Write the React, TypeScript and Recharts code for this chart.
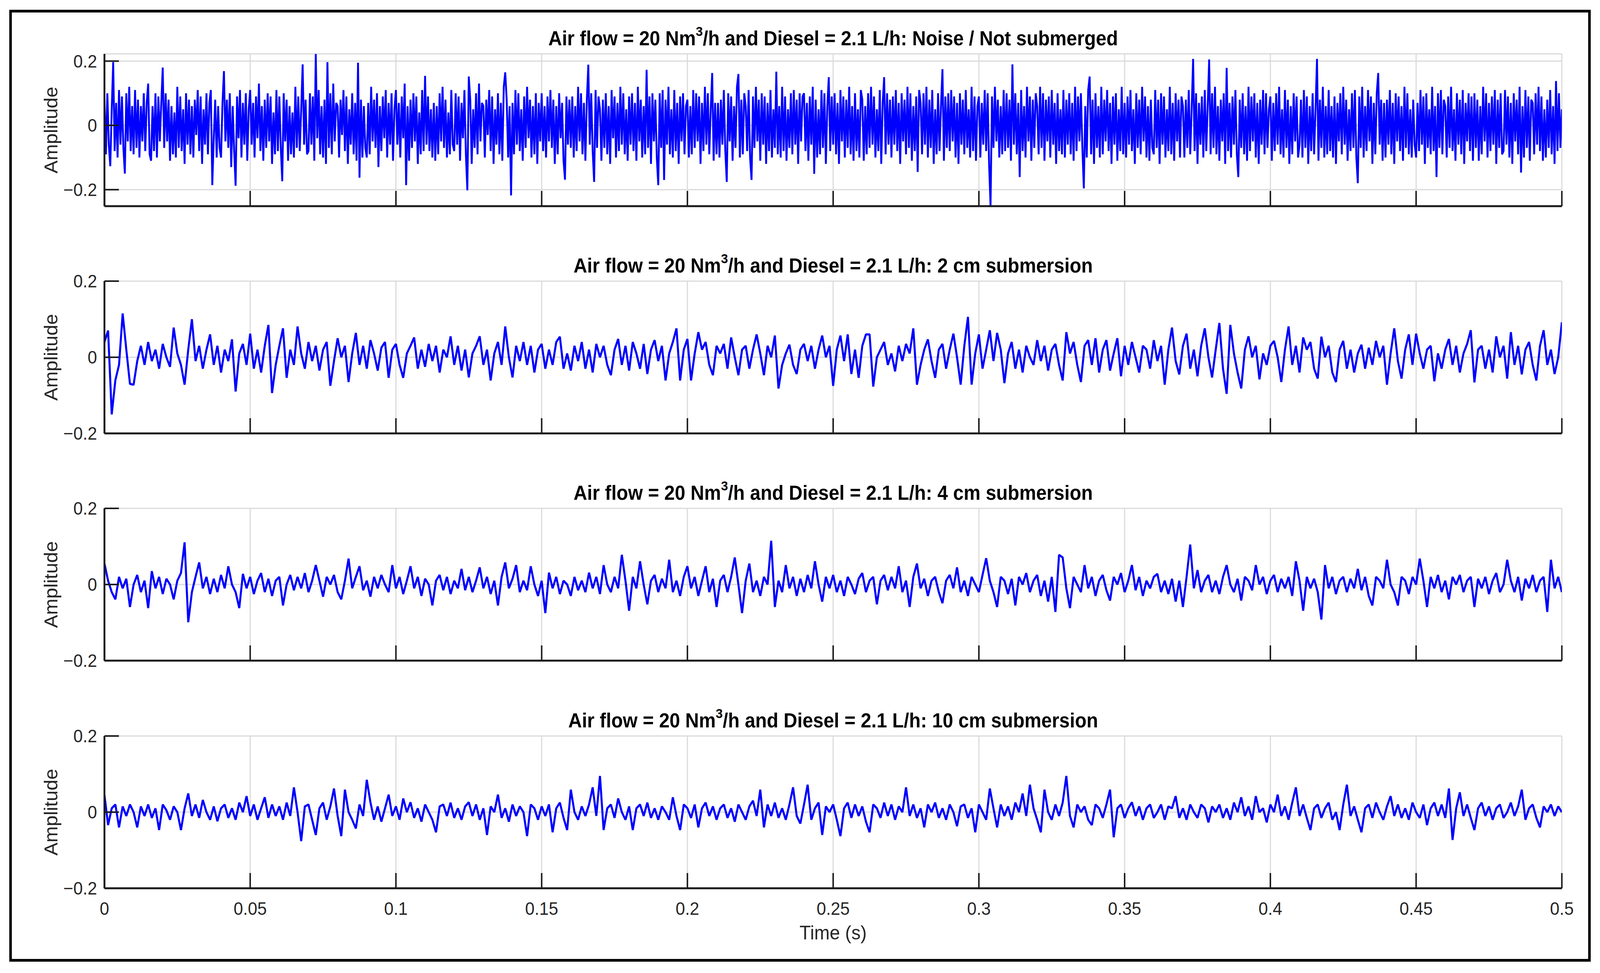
import { CartesianGrid, Line, LineChart, XAxis, YAxis } from "recharts";

// Four vibration traces (amplitude vs time, 0 – 0.5 s).
const TIME_TICKS = [0, 0.05, 0.1, 0.15, 0.2, 0.25, 0.3, 0.35, 0.4, 0.45, 0.5];
const AMPLITUDE_TICKS = [-0.2, 0, 0.2];
const TITLE_PREFIX = "Air flow = 20 Nm";
const TITLE_MIDDLE = "/h and Diesel = 2.1 L/h: ";
const TITLE_SUFFIXES = ["Noise / Not submerged", "2 cm submersion", "4 cm submersion", "10 cm submersion"];

// Noise / not submerged (one sample every 0.5 ms)
const noiseNotSubmerged = [
  .08, -.09, .1, -.06, -.127, .05, .197, -.08, .07, -.1, .11, -.06, .09, -.07, -.15, .1, -.05, .12, -.08, .06,
  -.09, .11, -.07, .08, -.1, .06, -.05, .1, -.08, .07, .13, -.09, -.11, .06, -.08, .1, -.1, .09, -.05, .07,
  .18, -.07, .1, -.05, .08, -.11, .06, -.09, .04, -.1, .12, -.07, .09, -.08, .05, -.12, .1, -.06, .08, -.09,
  .06, -.1, .08, -.03, .11, -.08, .09, -.12, .05, -.06, .1, -.09, .07, .11, -.186, -.04, .08, -.1, .06, -.07,
  -.1, .07, .169, -.05, .08, -.07, .1, -.13, .06, -.08, -.188, .09, -.04, .11, -.1, .07, -.06, .1, -.11, .05,
  .11, -.06, .07, -.1, .09, -.04, .13, -.08, .06, -.11, .08, -.07, .1, -.05, .09, -.12, .04, -.09, .11, -.08,
  .09, -.07, -.174, .1, -.05, .08, -.11, .06, -.09, .04, -.1, .12, -.07, .09, -.08, .05, .19, -.06, .08, -.09,
  -.08, .1, -.06, .09, -.11, .222, -.04, .11, -.09, .06, -.1, .08, -.12, .197, -.07, .1, -.09, .13, -.05, .07,
  .06, -.1, .08, -.03, .11, -.08, .09, -.12, .05, -.06, .1, -.09, .07, -.11, .195, -.163, .08, -.1, .06, -.07,
  -.1, .07, -.09, .12, -.05, .08, -.07, .1, -.13, .06, -.08, .09, -.04, .11, -.1, .07, -.06, .1, -.11, .05,
  .11, -.06, .07, -.1, .09, -.04, .13, -.186, .06, -.11, .08, -.07, .1, -.05, .09, -.12, .04, -.09, .11, -.08,
  .154, -.06, .09, -.08, .05, -.1, .07, -.11, .06, -.09, .1, -.05, .12, -.07, .08, -.1, .04, -.09, .11, -.06,
  -.08, .1, -.06, .09, -.11, .07, -.04, .11, -.09, -.202, .152, .08, -.12, .05, -.07, .1, -.09, .13, -.05, .07,
  .06, -.1, .08, -.03, .11, -.08, .09, -.12, .05, -.06, .1, -.09, .07, -.11, .12, .165, .08, -.1, .06, -.218,
  .07, -.09, .11, -.06, .1, -.08, .05, -.11, .09, -.07, .12, -.04, .08, -.1, .06, -.09, .1, -.12, .07, -.05,
  .1, -.08, .06, -.1, .09, -.05, .11, -.07, .08, -.12, .06, -.09, .1, -.04, .07, -.11, -.169, .09, -.06, .08,
  -.07, .09, -.1, .06, -.08, .12, -.05, .1, -.09, .07, -.11, .08, .189, -.06, .1, -.08, -.176, .11, -.07, .09,
  .05, -.11, .08, -.07, .1, -.09, .06, -.12, .11, -.04, .09, -.1, .07, -.08, .12, -.06, .1, -.09, .05, -.11,
  .09, -.06, .1, -.08, .07, -.11, .12, -.05, .08, -.1, .06, -.09, .173, -.07, .09, -.12, .1, -.05, .08, -.1,
  -.186, .1, -.07, .11, -.17, .08, -.06, .12, -.09, .05, -.1, .11, -.08, .07, -.12, .09, -.05, .1, -.09, .06,
  .08, -.1, .06, -.09, .11, -.07, .1, -.05, .09, -.12, .07, -.08, .12, -.06, .1, -.09, .05, .163, -.11, .07,
  -.09, .07, -.1, .08, -.06, .11, -.08, -.176, .1, -.05, .09, -.11, .06, -.07, .12, .16, -.1, .08, -.09, .1,
  .06, -.08, .11, -.1, -.17, .09, -.07, .12, -.05, .08, -.11, .1, -.06, .09, -.12, .07, -.08, .11, -.1, .05,
  -.07, .167, -.09, .06, -.1, .12, -.08, .09, -.11, .05, -.07, .1, -.09, .11, -.06, .08, -.12, .1, -.05, .09,
  .1, -.08, .07, -.11, .09, -.06, .12, -.151, .08, -.1, .05, -.09, .11, -.07, .1, -.12, .06, .15, -.08, .09,
  -.06, .1, -.09, .07, -.12, .11, -.05, .09, -.1, .08, -.07, .12, -.09, .06, -.11, .1, -.08, .05, -.1, .11,
  .08, -.11, .06, -.09, .1, -.07, .12, -.06, .09, -.1, .05, -.08, .11, -.12, .07, .15, -.09, .1, -.06, .08,
  -.1, .09, -.06, .11, -.08, .07, -.12, .1, -.05, .08, -.09, .12, -.07, .1, -.11, .06, -.08, .09, -.145, .11,
  .07, -.09, .1, -.06, .12, -.1, .08, -.07, .11, -.12, .05, -.09, .1, -.08, .06, .175, -.11, .09, -.07, .1,
  -.08, .11, -.05, .09, -.1, .07, -.12, .1, -.06, .08, -.09, .11, -.07, .05, -.1, .12, -.08, .09, -.11, .06,
  .09, -.1, .07, -.06, .11, -.08, .1, -.12, -.251, .09, -.07, .12, -.05, .08, -.1, .06, -.09, .11, -.08, .1,
  -.07, .08, -.11, .19, -.06, .1, -.09, .07, -.161, .11, -.08, .06, -.1, .12, -.05, .09, -.11, .08, -.07, .1,
  .06, -.09, .12, -.07, .1, -.11, .08, -.05, .09, -.1, .11, -.06, .07, -.12, .1, -.08, .05, -.09, .11, -.1,
  .08, -.06, .1, -.09, .07, -.11, .12, -.08, .09, -.05, .1, -.07, -.196, .06, -.1, .11, .152, -.09, .08, -.12,
  .1, -.07, .06, -.1, .12, -.09, .08, -.05, .11, -.08, .07, -.12, .09, -.06, .1, -.11, .05, -.08, .12, -.09,
  .07, -.1, .09, -.06, .11, -.08, .05, -.12, .1, -.07, .08, -.09, .12, -.05, .09, -.1, .06, -.11, .08, -.07,
  -.09, .11, -.07, .08, -.12, .1, -.06, .09, -.1, .05, -.08, .12, -.09, .07, -.11, .1, -.05, .08, -.1, .09,
  .06, -.1, .08, -.07, .11, -.09, .05, .207, -.08, .1, -.12, .07, -.06, .09, -.1, .11, -.08, .06, .205, -.09,
  .1, -.07, .12, -.09, .06, -.11, .08, -.05, .1, -.12, .179, -.08, .07, -.1, .09, -.06, .11, -.09, -.161, .08,
  -.07, .1, -.09, .06, -.11, .12, -.08, .09, -.05, .1, -.1, .07, -.12, .08, -.06, .11, -.09, .1, -.07, .05,
  .09, -.11, .07, -.08, .1, -.06, .12, -.09, .05, -.1, .11, -.07, .08, -.12, .06, -.09, .1, -.05, .09, -.1,
  -.06, .08, -.1, .11, -.07, .09, -.12, .06, -.08, .1, -.09, .05, .207, -.11, .08, -.07, .12, -.1, .06, -.09,
  .11, -.08, .06, -.1, .09, -.12, .07, -.05, .1, -.09, .12, -.06, .08, -.11, .05, -.08, .1, -.07, .11, -.1,
  -.18, .09, -.07, .12, -.1, .06, -.08, .11, -.05, .09, -.12, .07, -.09, .1, .163, -.06, .08, -.11, .07, -.1,
  .08, -.06, .11, -.09, .07, -.12, .1, -.05, .09, -.08, .06, -.11, .12, -.07, .1, -.09, .05, -.1, .08, -.06,
  -.1, .07, -.08, .11, -.06, .09, -.12, .1, -.07, .05, -.09, .12, -.08, .06, -.161, .1, -.07, .11, -.09, .08,
  .06, -.1, .09, -.07, .12, -.08, .05, -.11, .1, -.06, .08, -.09, .11, -.12, .07, -.05, .1, -.08, .09, -.11,
  .1, -.07, .08, -.11, .06, -.09, .12, -.05, .1, -.1, .07, -.08, .09, -.06, .11, -.12, .08, -.07, .1, -.09,
  -.08, .11, -.06, .09, -.1, .07, -.12, .1, -.05, .08, -.09, .12, -.147, .06, -.1, .11, -.07, .09, -.11, .08,
  .07, -.09, .1, -.06, .12, -.08, .09, -.11, .05, -.1, .08, -.07, .11, -.09, .06, -.12, .138, -.08, .1, -.07,
  .05,
];

// 2 cm submersion
const submersion2cm = [
  .04, .07, -.15, -.06, -.02, .115, .02, -.07, -.072, -.01, .03, -.02, .04, -.01, .02, -.03, .035, 0, -.025, .078,
  .01, -.02, -.072, .02, .1, -.01, .03, -.03, .02, .06, -.02, .03, -.04, .02, -.01, .047, -.09, .01, .035, -.02,
  .062, -.03, .02, -.04, .03, .085, -.094, -.02, .03, .076, -.054, .02, -.02, .081, .01, -.03, .04, -.01, .03, -.035,
  .02, .04, -.075, -.01, .05, 0, .03, -.065, .01, .064, -.02, .03, -.03, .045, .01, -.035, .025, .04, -.054, .02,
  .035, -.02, -.054, .01, .03, .052, -.03, .02, -.025, .035, -.01, .03, -.04, .02, 0, .055, -.02, .03, -.035, .02,
  -.053, .01, .03, .055, -.02, .02, -.061, .01, .04, -.02, .081, 0, -.053, .03, -.01, .04, -.02, .03, -.04, .02,
  .035, -.03, .02, -.02, .04, .054, -.03, .01, -.035, .03, -.01, .04, -.03, .02, -.04, .035, 0, .03, -.02, -.047,
  .02, .048, -.02, .03, -.035, .04, .01, -.03, .035, -.044, .02, .045, -.01, .03, -.061, .01, .04, .076, -.061, .02,
  .048, -.061, .01, .066, .02, .04, -.02, -.047, .03, .01, .035, -.03, .052, 0, -.047, .02, .03, -.03, .02, .06,
  .01, -.047, .03, 0, .057, -.082, -.02, .01, .033, -.02, -.044, .02, .035, -.01, .03, -.03, .02, .057, 0, .03,
  -.075, .02, .057, -.01, .06, -.044, .02, -.054, .03, .06, .06, -.077, 0, .02, .04, -.02, .01, -.037, .03, -.01,
  .035, .01, .076, -.072, -.02, .02, .047, -.01, -.054, .02, .035, -.03, .02, .062, 0, -.072, .03, .106, -.072, .01,
  .06, -.03, .02, .071, -.01, .064, .02, -.068, .01, .04, -.03, .02, -.04, .03, 0, -.02, .045, -.01, .03, -.035,
  .02, .035, -.02, -.061, .066, .01, .04, -.02, -.065, .03, .045, -.02, .05, -.04, .02, .045, -.035, .01, .05, -.05,
  .03, -.02, .04, 0, -.04, .03, .02, -.03, .045, -.01, .03, -.072, .02, .078, -.01, -.045, .03, .062, -.03, .02,
  -.05, .03, .076, 0, -.053, .02, .09, -.03, -.096, .085, .01, -.04, -.082, .02, .055, 0, .03, -.058, .01, -.02,
  .03, .043, 0, -.065, .02, .081, -.02, .03, -.04, .052, .02, .04, -.03, -.056, .054, 0, .03, -.04, -.065, .02,
  .043, -.03, .02, -.04, .01, .033, -.03, .025, -.02, .043, 0, .03, -.072, .01, .076, -.01, -.056, .02, .06, -.02,
  .062, .01, -.03, .02, .03, -.063, .01, -.03, .02, .048, -.02, .03, -.04, .01, .035, .071, -.066, .02, .03, -.03,
  .02, -.04, .055, 0, .03, -.056, .066, -.02, .03, -.045, .02, .04, -.02, -.061, .03, .071, -.02, .02, -.044, 0,
  .092,
];

// 4 cm submersion
const submersion4cm = [
  .055, .01, -.02, -.039, .02, -.01, .015, -.059, 0, .025, -.02, .01, -.062, .035, -.01, .02, -.025, .015, 0, -.039,
  .01, .03, .111, -.099, -.02, .02, .058, -.01, .02, -.025, .015, -.02, .025, -.01, .048, 0, -.02, -.062, .028, -.01,
  .02, -.025, .01, .03, -.02, .015, -.03, .01, .02, -.055, 0, .025, -.015, .02, -.01, .03, -.02, .01, .051, .01,
  -.032, .02, 0, .025, -.02, -.039, .01, .068, -.01, .02, .048, -.015, .01, -.032, .02, -.01, .025, 0, -.02, .051,
  -.01, .02, -.025, .01, .048, -.01, .02, -.03, .015, 0, -.055, .01, .025, -.015, .02, -.025, .01, -.01, .041, -.015,
  .02, -.02, .01, .045, -.01, .02, -.025, .01, -.055, .02, .058, -.01, .015, .051, -.02, .01, -.015, .048, 0, -.03,
  .01, -.075, .031, -.01, .02, -.025, .01, 0, -.03, .02, -.015, .01, -.02, .031, -.01, .02, -.025, .051, 0, -.02,
  .02, -.01, .078, .01, -.069, .02, -.01, .061, 0, -.052, .01, .025, -.02, .015, -.01, .065, -.02, .01, -.03, .02,
  .048, -.01, .02, -.03, .01, .048, -.02, .015, -.059, .01, .025, -.02, .02, .071, 0, -.075, .01, .055, -.02, .01,
  -.03, .02, 0, .115, -.059, .01, -.02, .051, -.01, .02, -.03, .015, -.02, .025, -.01, .061, 0, -.045, .02, -.01,
  .025, -.02, .01, -.03, .02, 0, -.025, .015, .03, -.02, .01, .02, -.052, .01, .025, -.015, .02, -.01, .048, -.02,
  .01, -.059, .02, .055, -.01, .015, -.03, .01, .02, -.02, -.049, .01, .025, -.01, .045, -.02, .01, -.03, .02, 0,
  -.02, .025, .069, .01, -.02, -.059, .02, .01, -.025, .015, -.055, .02, 0, .03, -.02, .01, .025, -.03, .01, -.045,
  .02, -.072, .078, .071, -.01, -.062, .02, 0, -.02, .051, -.01, .02, -.03, .01, .025, -.015, -.042, .02, 0, .03,
  -.02, .01, .051, -.015, .02, -.03, .01, -.01, .02, .028, -.02, .01, -.025, .015, -.045, .01, -.059, .02, .105, -.01,
  .038, -.02, .01, .025, -.02, .01, -.025, .02, .051, 0, -.02, .015, -.042, .02, .01, -.015, .051, 0, .02, -.025,
  .01, .025, -.02, .015, -.01, .02, -.03, .061, .01, -.069, .02, -.01, .015, -.02, -.092, .051, -.01, .02, -.025, .01,
  .02, -.02, .015, -.01, .041, -.015, .02, -.03, -.055, .02, .01, -.01, .065, 0, -.02, -.055, .02, .01, -.025, .02,
  0, .068, .01, -.059, .02, -.01, .025, -.02, .01, -.039, .02, 0, .025, -.02, .01, .02, -.059, .015, -.01, .02,
  -.025, .01, .03, -.02, 0, .065, .01, -.02, .02, -.042, .015, -.01, .025, -.02, .01, .02, -.072, .065, -.01, .02,
  -.02,
];

// 10 cm submersion
const submersion10cm = [
  .045, -.034, .01, .02, -.04, .015, -.01, .02, 0, -.04, .015, -.01, .02, -.015, .01, -.047, .02, .005, -.02, .015,
  0, -.047, .01, .049, -.01, .02, -.015, .032, 0, -.02, .015, -.024, .01, .02, -.015, .01, -.02, .025, 0, .042,
  -.01, .02, -.02, .01, .039, -.015, .02, -.01, .015, -.02, .025, -.01, .065, 0, -.076, .015, .02, -.02, -.06, .01,
  .025, -.02, .015, .062, -.01, -.063, .059, 0, -.02, -.043, .02, -.01, .085, .026, -.02, .015, -.025, .01, .046, -.01,
  .015, -.02, .036, 0, .026, -.015, .01, -.025, .02, 0, -.02, -.053, .015, .02, -.01, .025, -.015, .01, -.02, .015,
  .026, -.01, .02, -.02, .01, -.06, .015, 0, .046, -.015, .01, -.025, .02, -.01, .015, 0, -.063, .02, .01, -.02,
  .015, -.01, .02, -.053, .01, .025, -.015, -.047, .059, 0, -.02, .015, -.01, .02, .065, -.01, .095, -.047, .01, .02,
  -.015, .036, 0, -.02, .015, -.047, .01, .02, -.01, .025, -.015, .01, -.02, .015, 0, -.02, .039, -.01, -.047, .02,
  .01, -.015, .02, -.04, .01, .025, -.01, .015, -.02, .01, .02, -.015, .01, -.025, .02, 0, -.02, .015, .03, -.01,
  .059, -.04, .02, -.01, .025, -.015, .01, -.02, .02, .065, -.01, -.03, .02, .072, -.02, .01, .025, -.06, .015, 0,
  .02, -.02, -.063, .01, .025, -.015, .02, -.01, .015, -.025, -.053, .02, .01, -.015, .025, -.01, .02, -.02, .015, 0,
  .065, -.01, .02, -.015, .01, -.04, .02, 0, .025, -.015, .01, -.02, .02, 0, -.037, .015, .02, -.015, .01, -.053,
  .02, 0, -.02, .062, .01, -.04, .02, -.01, .015, -.02, .025, 0, .049, -.01, .072, .01, -.02, -.053, .059, 0,
  -.02, .02, -.01, .025, .095, -.01, -.04, .02, 0, .015, -.02, -.034, .02, .01, -.015, .02, .059, -.066, .01, .02,
  -.015, .01, .026, -.01, .015, -.02, .01, .02, -.015, 0, .02, -.02, .015, .01, .042, -.015, .01, -.02, .02, 0,
  -.015, .02, .01, -.027, .015, 0, .02, -.015, .01, -.02, .025, 0, .039, -.01, .015, -.02, .042, 0, .01, -.027,
  .02, 0, .046, -.01, .015, -.02, .025, .065, -.01, .02, -.015, -.047, .01, .02, -.015, .01, .025, -.02, 0, -.047,
  .02, .072, -.01, .015, -.02, -.053, .01, .02, -.015, .025, 0, -.02, .015, .042, -.01, .02, -.015, .01, -.02, .025,
  0, -.015, .02, -.034, .01, .025, -.01, .02, -.015, .062, -.073, .01, .052, -.01, .02, -.015, -.047, .01, .025, -.01,
  .015, -.02, .01, .02, -.015, 0, .025, -.01, .015, .059, -.02, .01, .02, -.015, -.04, .015, 0, .02, -.01, .015,
  0,
];

const SIGNALS = [noiseNotSubmerged, submersion2cm, submersion4cm, submersion10cm];
const Y_DOMAINS: [number, number][] = [[-0.2515, 0.2225], [-0.2, 0.2], [-0.2, 0.2], [-0.2, 0.2]];
const LINE_WIDTHS = [5, 5.5, 5.5, 5.5];

const W = 4320;
const H = 2492;
const PLOT_LEFT = 282;
const PLOT_RIGHT = 4217;
const PANEL_TOPS = [138, 720, 1302, 1885];
const PANEL_H = 390;
const PAD = 40; // room above/below each plot for the edge tick labels
const TICK_LEN = 39;
const FONT = "'Liberation Sans', Arial, Helvetica, sans-serif";
const INK = "#262626";

const tickStyle = { fontSize: 46, fill: INK, fontFamily: FONT };
const axisLine = { stroke: "#1a1a1a", strokeWidth: 5 };
const tickLine = { stroke: "#1a1a1a", strokeWidth: 4 };
const fmt = (v: number) => String(v).replace("-", "\u2212");
// keeps the inward tick marks but draws no label
const NoLabel = () => <g />;

function Panel({ index }: { index: number }) {
  const values = SIGNALS[index];
  const data = values.map((v, i) => ({ t: (i * 0.5) / (values.length - 1), v }));
  const last = index === SIGNALS.length - 1;
  const bottomSpace = last ? 130 : PAD;
  const top = PANEL_TOPS[index];

  return (
    <div style={{ position: "absolute", left: 0, top: top - PAD }}>
      <LineChart
        width={W}
        height={PAD + PANEL_H + bottomSpace}
        data={data}
        margin={{ top: PAD, right: W - PLOT_RIGHT, bottom: 0, left: 0 }}
      >
        <CartesianGrid xAxisId="b" yAxisId="l" stroke="#dadada" strokeWidth={3} />
        <XAxis
          xAxisId="b"
          type="number"
          dataKey="t"
          domain={[0, 0.5]}
          ticks={TIME_TICKS}
          interval={0}
          allowDataOverflow
          height={bottomSpace}
          tickSize={-TICK_LEN}
          tickMargin={last ? 74 : 0}
          tick={last ? tickStyle : NoLabel}
          tickFormatter={fmt}
          axisLine={axisLine}
          tickLine={tickLine}
        />
        <XAxis
          xAxisId="t"
          orientation="top"
          type="number"
          dataKey="t"
          domain={[0, 0.5]}
          ticks={TIME_TICKS}
          interval={0}
          allowDataOverflow
          height={0}
          tickSize={-TICK_LEN}
          tick={NoLabel}
          axisLine={axisLine}
          tickLine={tickLine}
        />
        <YAxis
          yAxisId="l"
          type="number"
          domain={Y_DOMAINS[index]}
          ticks={AMPLITUDE_TICKS}
          interval={0}
          allowDataOverflow
          width={PLOT_LEFT}
          tickSize={-TICK_LEN}
          tickMargin={59}
          tick={tickStyle}
          tickFormatter={fmt}
          axisLine={axisLine}
          tickLine={tickLine}
        />
        <YAxis
          yAxisId="r"
          orientation="right"
          type="number"
          domain={Y_DOMAINS[index]}
          ticks={AMPLITUDE_TICKS}
          interval={0}
          allowDataOverflow
          width={0}
          tickSize={-TICK_LEN}
          tick={NoLabel}
          axisLine={axisLine}
          tickLine={tickLine}
        />
        <Line
          xAxisId="b"
          yAxisId="l"
          type="linear"
          dataKey="v"
          stroke="#0000ff"
          strokeWidth={LINE_WIDTHS[index]}
          strokeLinejoin="bevel"
          dot={false}
          activeDot={false}
          isAnimationActive={false}
        />
      </LineChart>
      <div
        style={{
          position: "absolute",
          left: PLOT_LEFT,
          width: PLOT_RIGHT - PLOT_LEFT,
          top: PAD - 40,
          transform: "translateY(-50%)",
          textAlign: "center",
          fontFamily: FONT,
          fontWeight: "bold",
          fontSize: 51,
          lineHeight: 1,
          color: "#000",
          whiteSpace: "nowrap",
        }}
      >
        {TITLE_PREFIX}
        <span style={{ fontSize: 34, position: "relative", top: -24 }}>3</span>
        {TITLE_MIDDLE}
        {TITLE_SUFFIXES[index]}
      </div>
      <div
        style={{
          position: "absolute",
          left: 138,
          top: PAD + PANEL_H / 2,
          transform: "translate(-50%, -50%) rotate(-90deg)",
          fontFamily: FONT,
          fontSize: 50,
          lineHeight: 1,
          color: INK,
          whiteSpace: "nowrap",
        }}
      >
        Amplitude
      </div>
    </div>
  );
}

export default function App() {
  // the figure is laid out at 4320x2492; fit it to whatever viewport the page really gets
  const vw = document.documentElement.clientWidth || W;
  const vh = document.documentElement.clientHeight || H;
  const sx = vw / W;
  const sy = vh / H;

  return (
    <div
      style={{
        position: "absolute",
        left: 0,
        top: 0,
        width: W,
        height: H,
        background: "#fff",
        overflow: "hidden",
        transform: `scale(${sx}, ${sy})`,
        transformOrigin: "0 0",
      }}
    >
      <div
        style={{
          position: "absolute",
          left: 25,
          top: 25,
          width: 4270,
          height: 2438,
          border: "7px solid #000",
          boxSizing: "border-box",
        }}
      />
      {SIGNALS.map((_, i) => (
        <Panel key={i} index={i} />
      ))}
      <div
        style={{
          position: "absolute",
          left: (PLOT_LEFT + PLOT_RIGHT) / 2,
          top: 2389,
          transform: "translate(-50%, -50%)",
          fontFamily: FONT,
          fontSize: 50,
          lineHeight: 1,
          color: INK,
          whiteSpace: "nowrap",
        }}
      >
        Time (s)
      </div>
    </div>
  );
}
